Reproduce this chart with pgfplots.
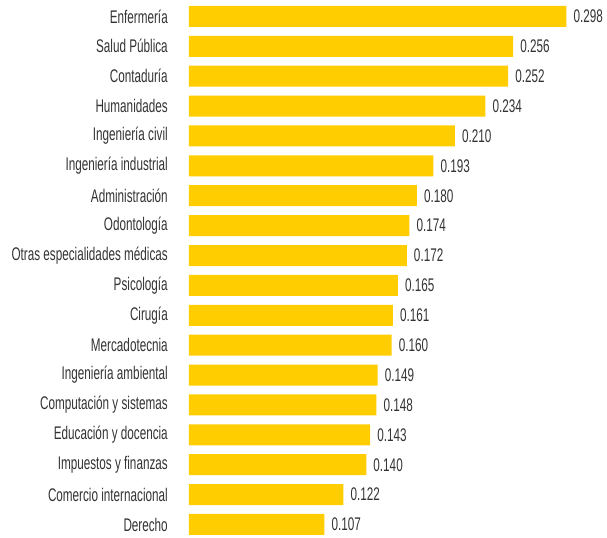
\documentclass[border=0pt]{standalone}
\usepackage{fontspec}
\setmainfont{Liberation Sans}[FakeStretch=0.64]
\usepackage{pgfplots}
\pgfplotsset{compat=1.18}
\definecolor{barcol}{HTML}{FFCD00}
\definecolor{txt}{HTML}{333333}

\begin{document}
\begin{tikzpicture}
\begin{axis}[
    xbar,
    scale only axis,
    width=418pt, height=538pt,
    xmin=0, xmax=0.33,
    ymin=-0.55, ymax=17.45,
    y dir=reverse,
    bar width=21pt,
    axis line style={draw=none},
    xtick=\empty,
    ytick={0,...,17},
    major tick length=0pt,
    yticklabels={Enfermería,Salud Pública,Contaduría,Humanidades,Ingeniería civil,Ingeniería industrial,Administración,Odontología,Otras especialidades médicas,Psicología,Cirugía,Mercadotecnia,Ingeniería ambiental,Computación y sistemas,Educación y docencia,Impuestos y finanzas,Comercio internacional,Derecho},
    y tick label style={font=\fontsize{18.3}{18}\selectfont, text=txt, anchor=east, inner sep=0pt, xshift=-21pt},
    nodes near coords,
    point meta=x,
    nodes near coords style={font=\fontsize{18.3}{18}\selectfont, text=txt, anchor=west, inner sep=0pt, xshift=7pt,
        /pgf/number format/.cd, fixed, fixed zerofill, precision=3, assume math mode=true},
    clip=false,
]
\addplot[draw=none, fill=barcol] coordinates {
    (0.298,0) (0.256,1) (0.252,2) (0.234,3) (0.210,4) (0.193,5)
    (0.180,6) (0.174,7) (0.172,8) (0.165,9) (0.161,10) (0.160,11)
    (0.149,12) (0.148,13) (0.143,14) (0.140,15) (0.122,16) (0.107,17)
};
\end{axis}
\path (current axis.south west) ++(-189pt,0) (current axis.north east);
\end{tikzpicture}
\end{document}
